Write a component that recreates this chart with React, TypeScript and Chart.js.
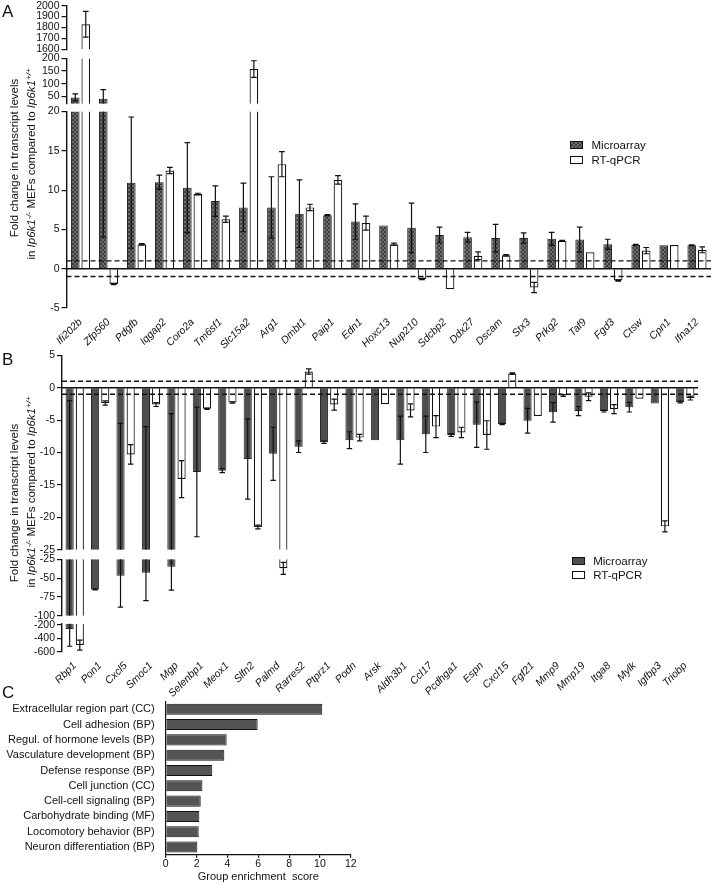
import React, { useEffect, useRef } from 'react';
import { Chart, registerables } from 'chart.js';

Chart.register(...registerables);

const FONT = "'Liberation Sans', Arial, Helvetica, sans-serif";
const INK = '#111111';

// ---------------- Panel A data ----------------
const genesA = ['Ifi202b', 'Zfp560', 'Pdgfb', 'Iqgap2', 'Coro2a', 'Tm6sf1', 'Slc15a2', 'Arg1', 'Dmbt1', 'Paip1', 'Edn1', 'Hoxc13', 'Nup210', 'Sdcbp2', 'Ddx27', 'Dscam', 'Stx3', 'Prkg2', 'Taf9', 'Fgd3', 'Ctsw', 'Cpn1', 'Ifna12'];
const microA = [45, 40, 10.95, 11, 10.3, 8.6, 7.8, 7.8, 7.0, 6.8, 6.0, 5.5, 5.2, 4.3, 4.0, 3.9, 3.9, 3.8, 3.7, 3.1, 3.05, 2.97, 2.97];
const microAErr = [14, 36, 8.35, 0.9, 5.75, 1.95, 3.1, 3.9, 4.3, 0.08, 2.25, 0, 3.15, 1.0, 0.63, 1.75, 0.65, 0.83, 1.6, 0.65, 0.05, 0, 0.06];
const rtA = [1830, -1.95, 3.1, 12.5, 9.5, 6.3, 158, 13.3, 7.8, 11.3, 5.8, 3.1, -1.3, -2.6, 1.65, 1.7, -2.4, 3.55, 2.1, -1.5, 2.3, 3.0, 2.4];
const rtAErr = [118, 0.08, 0.1, 0.4, 0.1, 0.4, 33, 1.6, 0.4, 0.55, 0.9, 0.15, 0.08, 0, 0.5, 0.1, 0.65, 0.05, 0, 0.08, 0.4, 0, 0.37];
const ticksATop = [1600, 1700, 1800, 1900, 2000];
const ticksAMid = [50, 100, 150, 200];
const ticksALow = [-5, 0, 5, 10, 15, 20];

// ---------------- Panel B data ----------------
const genesB = ['Rbp1', 'Pon1', 'Cxcl5', 'Smoc1', 'Mgp', 'Selenbp1', 'Meox1', 'Slfn2', 'Palmd', 'Rarres2', 'Ptprz1', 'Podn', 'Arsk', 'Aldh3b1', 'Ccl17', 'Pcdhga1', 'Espn', 'Cxcl15', 'Fgf21', 'Mmp9', 'Mmp19', 'Itga8', 'Mylk', 'Igfbp3', 'Triobp'];
const microB = [-260, -65, -47, -43, -35, -13, -12.8, -11, -10.2, -9.1, -8.4, -8.1, -8.1, -8.1, -7.2, -7.3, -5.7, -5.6, -5.1, -3.8, -3.6, -3.6, -3.0, -2.45, -2.2];
const microBErr = [258, 0.8, 41.5, 37, 31, 10, 0.3, 6.2, 4.1, 0.9, 0.2, 1.3, 0, 3.7, 2.8, 0.2, 3.5, 0.1, 1.9, 1.5, 0.7, 0.15, 0.75, 0, 0.15];
const rtB = [-500, -2.35, -10.3, -2.6, -14.1, -3.25, -2.3, -21.5, -37, 2.5, -2.6, -7.7, -2.55, -3.5, -6.0, -6.9, -7.3, 2.2, -4.35, -1.2, -1.4, -3.3, -1.7, -21.4, -1.6];
const rtBErr = [75, 0.33, 1.5, 0.3, 2.85, 0.1, 0.1, 0.3, 8, 0.4, 0.85, 0.5, 0, 1.0, 1.7, 0.8, 2.2, 0.1, 0, 0.15, 0.6, 0.7, 0, 0.85, 0.3];
const ticksBTop = [-25, -20, -15, -10, -5, 0, 5];
const ticksBMid = [-100, -75, -50, -25];
const ticksBLow = [-600, -400, -200];

// ---------------- Panel C data ----------------
const termsC = ['Extracellular region part (CC)', 'Cell adhesion (BP)', 'Regul. of hormone levels (BP)', 'Vasculature development (BP)', 'Defense response (BP)', 'Cell junction (CC)', 'Cell-cell signaling (BP)', 'Carbohydrate binding (MF)', 'Locomotory behavior (BP)', 'Neuron differentiation (BP)'];
const scoresC = [10.15, 5.96, 3.95, 3.8, 3.02, 2.38, 2.27, 2.18, 2.14, 2.05];
const ticksC = [0, 2, 4, 6, 8, 10, 12];

const thresholdLevels = [-1, 1];

// ---------------- plugins ----------------
const areaClipPlugin = {
  id: 'areaClip',
  beforeDatasetsDraw(chart: any) {
    const { ctx, chartArea: a } = chart;
    ctx.save();
    ctx.beginPath();
    ctx.rect(a.left, a.top, a.right - a.left, a.bottom - a.top);
    ctx.clip();
  },
  afterDatasetsDraw(chart: any) {
    chart.ctx.restore();
  },
};

const errorBarPlugin = {
  id: 'errorBars',
  afterDatasetsDraw(chart: any) {
    const { ctx, chartArea: a } = chart;
    const y = chart.scales.y;
    ctx.save();
    ctx.beginPath();
    ctx.rect(a.left, a.top - 0.6, a.right - a.left, a.bottom - a.top + 1.2);
    ctx.clip();
    ctx.strokeStyle = INK;
    ctx.lineWidth = 1.2;
    chart.data.datasets.forEach((ds: any, di: number) => {
      const errs = ds.errors;
      if (!errs) return;
      const meta = chart.getDatasetMeta(di);
      meta.data.forEach((bar: any, i: number) => {
        const v = ds.data[i];
        const e = errs[i];
        if (!e) return;
        const lo = v - e;
        const hi = v + e;
        if (hi < y.min || lo > y.max) return;
        const x = bar.x;
        const y1 = y.getPixelForValue(Math.max(lo, y.min));
        const y2 = y.getPixelForValue(Math.min(hi, y.max));
        const cw = bar.width * 0.33;
        ctx.beginPath();
        ctx.moveTo(x, y1);
        ctx.lineTo(x, y2);
        if (lo >= y.min && lo <= y.max) {
          ctx.moveTo(x - cw, y1);
          ctx.lineTo(x + cw, y1);
        }
        if (hi >= y.min && hi <= y.max) {
          ctx.moveTo(x - cw, y2);
          ctx.lineTo(x + cw, y2);
        }
        ctx.stroke();
      });
    });
    ctx.restore();
  },
};

const refLinePlugin = {
  id: 'refLines',
  afterDatasetsDraw(chart: any) {
    const { ctx, chartArea: a } = chart;
    const y = chart.scales.y;
    ctx.save();
    ctx.strokeStyle = INK;
    ctx.lineWidth = 1.4;
    thresholdLevels.forEach((lv) => {
      const py = y.getPixelForValue(lv);
      ctx.setLineDash([5, 3]);
      ctx.beginPath();
      ctx.moveTo(a.left, py);
      ctx.lineTo(a.right, py);
      ctx.stroke();
    });
    const p0 = y.getPixelForValue(0);
    ctx.setLineDash([]);
    ctx.lineWidth = 1.6;
    ctx.beginPath();
    ctx.moveTo(a.left, p0);
    ctx.lineTo(a.right, p0);
    ctx.stroke();
    ctx.restore();
  },
};

function checkerPattern(): any {
  const c = document.createElement('canvas');
  c.width = 4;
  c.height = 4;
  const g = c.getContext('2d')!;
  g.fillStyle = '#6c6c6c';
  g.fillRect(0, 0, 4, 4);
  g.fillStyle = '#3e3e3e';
  g.fillRect(0, 0, 2, 2);
  g.fillRect(2, 2, 2, 2);
  return g.createPattern(c, 'repeat');
}

type Series = { label: string; data: number[]; err: number[]; fill: string; border: string; bw: number };
type Seg = {
  width: number;
  yw: number;
  areaTop: number;
  areaBottom: number;
  min: number;
  max: number;
  ticks: number[];
  labels: string[];
  series: Series[];
  catPct: number;
  barPct: number;
  showX?: boolean;
  xh?: number;
  refLines?: boolean;
};

const PAD = 8;

function SegChart({ seg }: { seg: Seg }) {
  const ref = useRef<HTMLCanvasElement>(null);
  const canvasTop = Math.floor(seg.areaTop) - PAD;
  const xh = seg.showX ? seg.xh || 50 : 0;
  const areaH = seg.areaBottom - seg.areaTop;
  const padTop = seg.areaTop - canvasTop;
  const H = Math.ceil(padTop + areaH + (seg.showX ? xh : PAD));
  const padBottom = H - padTop - areaH - xh;

  useEffect(() => {
    if (!ref.current) return;
    const pattern = checkerPattern();
    const datasets = seg.series.map((s) => ({
      label: s.label,
      data: s.data,
      errors: s.err,
      backgroundColor: s.fill === 'pattern' ? pattern : s.fill,
      borderColor: s.border,
      borderWidth: s.bw,
      barPercentage: seg.barPct,
      categoryPercentage: seg.catPct,
      clip: 0,
    }));
    const plugins: any[] = [areaClipPlugin, errorBarPlugin];
    if (seg.refLines) plugins.push(refLinePlugin);
    const chart = new Chart(ref.current, {
      type: 'bar',
      data: { labels: seg.labels, datasets: datasets as any },
      options: {
        responsive: false,
        animation: false,
        devicePixelRatio: 1,
        events: [],
        layout: { padding: { top: padTop, bottom: padBottom, left: 0, right: 0 } },
        plugins: { legend: { display: false }, tooltip: { enabled: false } },
        scales: {
          x: {
            type: 'category',
            display: !!seg.showX,
            grid: { display: false },
            border: { display: false },
            ticks: {
              autoSkip: false,
              minRotation: 45,
              maxRotation: 45,
              padding: 0,
              color: INK,
              font: { family: FONT, size: 10.5, style: 'italic' },
            },
            afterFit: (s: any) => {
              s.height = xh;
            },
          },
          y: {
            type: 'linear',
            min: seg.min,
            max: seg.max,
            afterFit: (s: any) => {
              s.width = seg.yw;
            },
            afterBuildTicks: (s: any) => {
              s.ticks = seg.ticks.map((v) => ({ value: v }));
            },
            ticks: {
              autoSkip: false,
              color: INK,
              padding: 2,
              font: { family: FONT, size: 10.5 },
              callback: (v: any) => String(v),
            },
            grid: { drawOnChartArea: false, drawTicks: true, tickLength: 5, tickColor: INK, lineWidth: 1.2 },
            border: { display: true, color: INK, width: 1.4 },
          },
        },
      } as any,
      plugins,
    });
    return () => chart.destroy();
  }, []);

  return (
    <canvas
      ref={ref}
      width={seg.width}
      height={H}
      style={{ position: 'absolute', left: 0, top: canvasTop, width: seg.width, height: H }}
    />
  );
}

function ChartC() {
  const ref = useRef<HTMLCanvasElement>(null);
  const areaTop = 700.3;
  const areaBottom = 854.7;
  const canvasTop = Math.floor(areaTop) - PAD;
  const xh = 30;
  const W = 360;
  const areaRight = 350.8;
  const padTop = areaTop - canvasTop;
  const H = Math.ceil(padTop + (areaBottom - areaTop) + xh);
  const padBottom = H - padTop - (areaBottom - areaTop) - xh;
  useEffect(() => {
    if (!ref.current) return;
    const chart = new Chart(ref.current, {
      type: 'bar',
      data: {
        labels: termsC,
        datasets: [
          {
            data: scoresC,
            backgroundColor: '#545454',
            borderColor: INK,
            borderWidth: 1,
            barPercentage: 0.72,
            categoryPercentage: 1,
          },
        ],
      },
      options: {
        indexAxis: 'y',
        responsive: false,
        animation: false,
        devicePixelRatio: 1,
        events: [],
        layout: { padding: { top: padTop, bottom: padBottom, left: 0, right: W - areaRight } },
        plugins: { legend: { display: false }, tooltip: { enabled: false } },
        scales: {
          x: {
            type: 'linear',
            min: 0,
            max: 12,
            afterBuildTicks: (s: any) => {
              s.ticks = ticksC.map((v) => ({ value: v }));
            },
            afterFit: (s: any) => {
              s.height = xh;
            },
            ticks: { autoSkip: false, color: INK, padding: 0, font: { family: FONT, size: 10.5 }, callback: (v: any) => String(v) },
            grid: { drawOnChartArea: false, drawTicks: true, tickLength: 3, tickColor: INK, lineWidth: 1.2 },
            border: { display: true, color: INK, width: 1.2 },
            title: {
              display: true,
              text: 'Group enrichment  score',
              color: INK,
              font: { family: FONT, size: 11 },
              padding: { top: 0, bottom: 1 },
            },
          },
          y: {
            type: 'category',
            afterFit: (s: any) => {
              s.width = 165.7;
            },
            grid: { display: false },
            border: { display: true, color: INK, width: 1.2 },
            ticks: { autoSkip: false, color: INK, padding: 3, font: { family: FONT, size: 11 } },
          },
        },
      } as any,
    });
    return () => chart.destroy();
  }, []);
  return (
    <canvas ref={ref} width={W} height={H} style={{ position: 'absolute', left: 0, top: canvasTop, width: W, height: H }} />
  );
}

function VTitle({ cx, cy, children }: { cx: number; cy: number; children: any }) {
  return (
    <div
      style={{
        position: 'absolute',
        left: cx - 160,
        top: cy - 8,
        width: 320,
        height: 16,
        lineHeight: '16px',
        textAlign: 'center',
        whiteSpace: 'nowrap',
        fontSize: 11.5,
        color: INK,
        transform: 'rotate(-90deg)',
      }}
    >
      {children}
    </div>
  );
}

const supStyle: any = { fontSize: 8, position: 'relative', top: -4, lineHeight: 0 };

function Geno({ sup }: { sup: string }) {
  return (
    <i>
      Ip6k1<span style={supStyle}>{sup}</span>
    </i>
  );
}

function LegendBox({ left, top, fill, text, pattern }: { left: number; top: number; fill: string; text: string; pattern?: boolean }) {
  return (
    <>
      <div
        style={{
          position: 'absolute',
          left,
          top,
          width: 13,
          height: 8.5,
          boxSizing: 'border-box',
          border: `1px solid ${INK}`,
          background: pattern
            ? 'repeating-conic-gradient(#3e3e3e 0% 25%, #6c6c6c 0% 50%) 0 0 / 4px 4px'
            : fill,
        }}
      />
      <div
        style={{
          position: 'absolute',
          left: left + 21.5,
          top: top + 4.25 - 7,
          height: 14,
          lineHeight: '14px',
          fontSize: 11.5,
          color: INK,
          whiteSpace: 'nowrap',
        }}
      >
        {text}
      </div>
    </>
  );
}

const seriesA: Series[] = [
  { label: 'Microarray', data: microA, err: microAErr, fill: 'pattern', border: '#222222', bw: 1 },
  { label: 'RT-qPCR', data: rtA, err: rtAErr, fill: '#ffffff', border: INK, bw: 1.2 },
];
const segA: Seg[] = [
  {
    width: 711, yw: 66.5, areaTop: 5.7, areaBottom: 49.3, min: 1600, max: 2000, ticks: ticksATop, labels: genesA,
    series: seriesA, catPct: 0.75, barPct: 0.82,
  },
  {
    width: 711, yw: 66.5, areaTop: 58.5, areaBottom: 104, min: 20, max: 200, ticks: ticksAMid, labels: genesA,
    series: seriesA, catPct: 0.75, barPct: 0.82,
  },
  {
    width: 711, yw: 66.5, areaTop: 111.5, areaBottom: 308, min: -5, max: 20, ticks: ticksALow, labels: genesA,
    series: seriesA, catPct: 0.75, barPct: 0.82, showX: true, xh: 60, refLines: true,
  },
];

const seriesB: Series[] = [
  { label: 'Microarray', data: microB, err: microBErr, fill: '#4e4e4e', border: '#222222', bw: 1 },
  { label: 'RT-qPCR', data: rtB, err: rtBErr, fill: '#ffffff', border: INK, bw: 1.2 },
];
const segB: Seg[] = [
  {
    width: 698, yw: 62, areaTop: 355, areaBottom: 550, min: -25, max: 5, ticks: ticksBTop, labels: genesB,
    series: seriesB, catPct: 0.8, barPct: 0.8, refLines: true,
  },
  {
    width: 698, yw: 62, areaTop: 559.3, areaBottom: 616, min: -100, max: -25, ticks: ticksBMid, labels: genesB,
    series: seriesB, catPct: 0.8, barPct: 0.8,
  },
  {
    width: 698, yw: 62, areaTop: 623.7, areaBottom: 651.7, min: -600, max: -180, ticks: ticksBLow, labels: genesB,
    series: seriesB, catPct: 0.8, barPct: 0.8, showX: true, xh: 45,
  },
];

export default function App() {
  return (
    <div
      style={{
        position: 'absolute',
        left: 0,
        top: 0,
        width: 711,
        height: 884,
        overflow: 'hidden',
        background: '#ffffff',
        fontFamily: FONT,
        color: INK,
      }}
    >
      {segA.map((s, i) => (
        <SegChart key={'a' + i} seg={s} />
      ))}
      {segB.map((s, i) => (
        <SegChart key={'b' + i} seg={s} />
      ))}
      <ChartC />

      <div style={{ position: 'absolute', left: 2, top: 3, fontSize: 17, lineHeight: '17px' }}>A</div>
      <div style={{ position: 'absolute', left: 2, top: 351, fontSize: 17, lineHeight: '17px' }}>B</div>
      <div style={{ position: 'absolute', left: 2, top: 684, fontSize: 17, lineHeight: '17px' }}>C</div>

      <VTitle cx={14} cy={158}>Fold change in transcript levels</VTitle>
      <VTitle cx={31} cy={164}>
        in <Geno sup="-/-" /> MEFs compared to <Geno sup="+/+" />
      </VTitle>
      <VTitle cx={14} cy={503}>Fold change in transcript levels</VTitle>
      <VTitle cx={31} cy={492}>
        in <Geno sup="-/-" /> MEFs compared to <Geno sup="+/+" />
      </VTitle>

      <LegendBox left={570} top={140.8} fill="" pattern text="Microarray" />
      <LegendBox left={570} top={155.8} fill="#ffffff" text="RT-qPCR" />
      <LegendBox left={571.7} top={556.8} fill="#4e4e4e" text="Microarray" />
      <LegendBox left={571.7} top={570.8} fill="#ffffff" text="RT-qPCR" />
    </div>
  );
}
